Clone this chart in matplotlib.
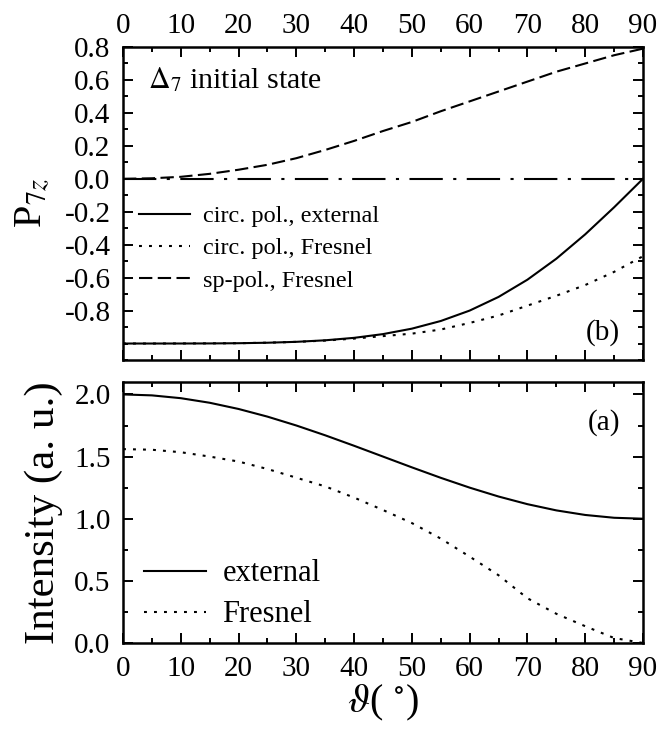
import matplotlib
matplotlib.use("Agg")
import matplotlib.pyplot as plt
from matplotlib.ticker import MultipleLocator, FixedLocator

plt.rcParams['font.family'] = ['Liberation Serif', 'DejaVu Serif']
plt.rcParams['mathtext.fontset'] = 'stix'

theta = [0, 5, 10, 15, 20, 25, 30, 35, 40, 45, 50, 55, 60, 65, 70, 75, 80, 85, 90]

p_circ_external = [-1.0, -1.0, -0.9999, -0.9994, -0.9981, -0.9952, -0.9897, -0.9804, -0.9655,
                   -0.9428, -0.9097, -0.8632, -0.80, -0.7171, -0.6124, -0.4851, -0.3371, -0.1730, 0.0]
p_circ_fresnel = [-1.0, -1.0, -0.9995, -0.999, -0.998, -0.995, -0.99, -0.982, -0.97,
                  -0.955, -0.94, -0.915, -0.875, -0.83, -0.77, -0.71, -0.645, -0.565, -0.47]
p_sp_fresnel = [0.0, 0.003, 0.012, 0.03, 0.055, 0.085, 0.125, 0.175, 0.23,
                0.29, 0.345, 0.41, 0.47, 0.53, 0.59, 0.65, 0.70, 0.75, 0.79]
p_sp_external = [0.0] * 19

i_external = [2.0, 1.9924, 1.9698, 1.933, 1.883, 1.8214, 1.75, 1.671, 1.5868,
              1.5, 1.4132, 1.329, 1.25, 1.1786, 1.117, 1.067, 1.0302, 1.0076, 1.0]
i_fresnel = [1.56, 1.555, 1.535, 1.50, 1.46, 1.40, 1.33, 1.26, 1.17,
             1.07, 0.965, 0.84, 0.695, 0.545, 0.36, 0.235, 0.135, 0.04, 0.0]

top_yticks = [0.8, 0.6, 0.4, 0.2, 0.0, -0.2, -0.4, -0.6, -0.8]
top_yticklabels = ['0.8', '0.6', '0.4', '0.2', '0.0', '-0.2', '-0.4', '-0.6', '-0.8']
bot_yticks = [0.0, 0.5, 1.0, 1.5, 2.0]
bot_yticklabels = ['0.0', '0.5', '1.0', '1.5', '2.0']
xticks = [0, 10, 20, 30, 40, 50, 60, 70, 80, 90]

fig = plt.figure(figsize=(6.6, 7.34), dpi=100)
L, R = 123 / 660, 643 / 660
H = 734
ax1 = fig.add_axes([L, (H - 360) / H, R - L, (360 - 47) / H])
ax2 = fig.add_axes([L, (H - 643) / H, R - L, (643 - 382) / H])

lw = 1.5
ax1.plot(theta, p_sp_external, color='black', lw=lw, dashes=(16, 5, 1.5, 5))
ax1.plot(theta, p_circ_external, color='black', lw=lw, label='circ. pol., external')
ax1.plot(theta, p_circ_fresnel, color='black', lw=lw, dashes=(1.4, 3.4), label='circ. pol., Fresnel')
ax1.plot(theta, p_sp_fresnel, color='black', lw=lw, dashes=(6.4, 2.6), label='sp-pol., Fresnel')

ax2.plot(theta, i_external, color='black', lw=lw, label='external')
ax2.plot(theta, i_fresnel, color='black', lw=lw, dashes=(1.4, 3.4), label='Fresnel')

ax1.set_xlim(0, 90)
ax1.set_ylim(-1.1, 0.8)
ax2.set_xlim(0, 90)
ax2.set_ylim(0, 2.1)

for ax in (ax1, ax2):
    ax.xaxis.set_major_locator(FixedLocator(xticks))
    ax.xaxis.set_minor_locator(MultipleLocator(5))
    ax.tick_params(which='both', direction='in', top=True, right=True, width=1.4, labelsize=21)
    ax.tick_params(which='major', length=7.5)
    ax.tick_params(which='minor', length=3.8)
    ax.tick_params(axis='y', pad=9)
    for s in ax.spines.values():
        s.set_linewidth(1.8)

ax1.set_yticks(top_yticks)
ax1.set_yticklabels(top_yticklabels)
ax1.yaxis.set_minor_locator(MultipleLocator(0.1))
ax1.tick_params(axis='x', labelbottom=False, labeltop=True, pad=6)

ax2.set_yticks(bot_yticks)
ax2.set_yticklabels(bot_yticklabels)
ax2.yaxis.set_minor_locator(MultipleLocator(0.25))
ax2.set_xticklabels([str(v) for v in xticks])
ax2.tick_params(axis='x', pad=9)

ax1.set_ylabel(r'P$_{7z}$', fontsize=29, labelpad=9)
ax2.set_ylabel('Intensity (a. u.)', fontsize=31, labelpad=8)
ax2.set_xlabel(r'$\vartheta$( $^{\circ}$)', fontsize=29, labelpad=1)

ax1.text(0.048, 0.895, r'$\Delta_7$ initial state', transform=ax1.transAxes,
         fontsize=21.5, ha='left', va='center')
ax1.text(0.956, 0.089, '(b)', transform=ax1.transAxes, fontsize=21, ha='right', va='center')
ax2.text(0.956, 0.843, '(a)', transform=ax2.transAxes, fontsize=21, ha='right', va='center')

leg1 = ax1.legend(loc='upper left', bbox_to_anchor=(0.0, 0.545), frameon=False, fontsize=17.5,
                  handlelength=2.1, handletextpad=0.55, labelspacing=0.42, borderaxespad=0.25)
leg2 = ax2.legend(loc='lower left', bbox_to_anchor=(0.0, -0.03), frameon=False, fontsize=22,
                  handlelength=2.0, handletextpad=0.55, labelspacing=0.4, borderaxespad=0.3)

fig.savefig('out.png', dpi=100)
